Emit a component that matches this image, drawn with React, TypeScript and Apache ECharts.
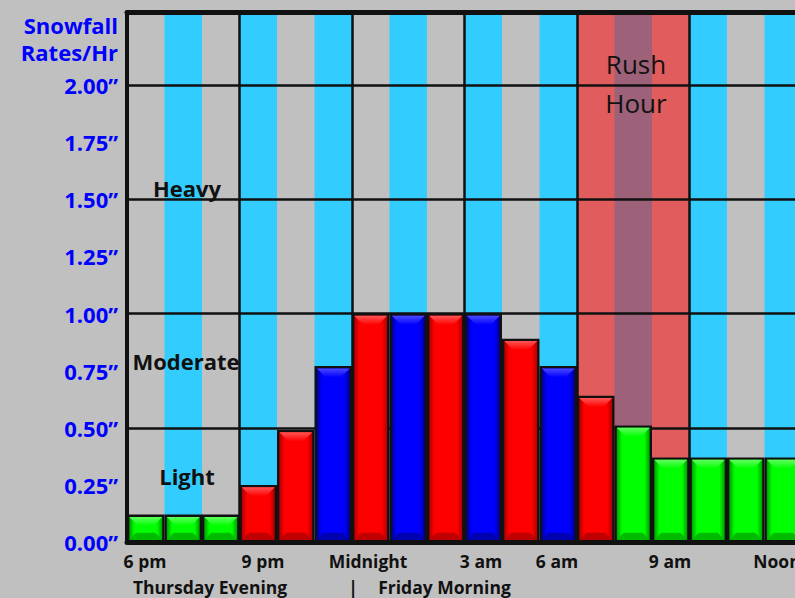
import React, { useEffect, useRef } from 'react';
import * as echarts from 'echarts';

// ---------- data ----------
const HOURS = ['6 pm', '7 pm', '8 pm', '9 pm', '10 pm', '11 pm', 'Midnight', '1 am', '2 am', '3 am', '4 am', '5 am', '6 am', '7 am', '8 am', '9 am', '10 am', '11 am'];
const RATES = [0.12, 0.12, 0.12, 0.25, 0.49, 0.77, 1.0, 1.0, 1.0, 1.0, 0.89, 0.77, 0.64, 0.51, 0.37, 0.37, 0.37, 0.37];
const BAR_KINDS = ['green', 'green', 'green', 'red', 'red', 'blue', 'red', 'blue', 'red', 'blue', 'red', 'blue', 'red', 'green', 'green', 'green', 'green', 'green'];
const GRID_RATES = [0.5, 1.0, 1.5, 2.0];
const GRID_HOURS = [3, 6, 9, 12, 15];
const RUSH_HOUR = [12, 15];
const Y_MAX_LABEL = 2.0;
const TITLE_LINES = ['Snowfall', 'Rates/Hr'];
const X_LABELS = ['6 pm', '9 pm', 'Midnight', '3 am', '6 am', '9 am', 'Noon'];
const DAY_LABELS = ['Thursday Evening', '|', 'Friday Morning'];
const INTENSITY_LABELS = ['Heavy', 'Moderate', 'Light'];
const RUSH_LABEL = 'Rush\nHour';

// ---------- layout / style ----------
const X_LABEL_X = [145, 263, 368, 481, 557, 670, 777];
const DAY_LABEL_X = [210, 353, 444.5];
const INTENSITY_POS = [[187, 188], [186, 361], [187, 476]];
const FONT = "'Open Sans', sans-serif";
const BG = '#c0c0c0';
const STRIPES = ['#c0c0c0', '#33ccff'];
const INK = '#111111';
const BLUE_TEXT = '#0000ff';

const PALETTES: Record<string, any> = {
  red: { base: '#ff0000', light: '#ff5555', dark: '#b00000', bottom: '#c00000' },
  blue: { base: '#0000ff', light: '#4a4aff', dark: '#000090', bottom: '#0000b0' },
  green: { base: '#00ff00', light: '#60ff60', dark: '#00a000', bottom: '#00bb00' },
};

function renderStripe(params: any, api: any) {
  const i = api.value(0);
  const cs = params.coordSys;
  const cx = api.coord([i, 0])[0];
  const w = api.size([1, 0])[0];
  return {
    type: 'rect',
    shape: { x: cx - w / 2, y: cs.y, width: w, height: cs.height },
    style: { fill: STRIPES[i % 2] },
  };
}

function renderBar(params: any, api: any) {
  const i = api.value(0);
  const v = api.value(1);
  const p = api.coord([i, v]);
  const b = api.coord([i, 0]);
  const w = api.size([1, 0])[0];
  const x = p[0] - w / 2;
  const y = p[1];
  const h = b[1] - p[1];
  const pal = PALETTES[BAR_KINDS[i]];
  const t = 2.3;
  const ix = x + t, iy = y + t, iw = w - 2 * t, ih = h - 2 * t;
  const dTop = Math.min(9, ih / 2, iw / 2);
  const dBot = Math.min(7, ih / 2, iw / 2);
  const G = echarts.graphic.LinearGradient;
  return {
    type: 'group',
    children: [
      { type: 'rect', shape: { x, y, width: w, height: h }, style: { fill: INK } },
      {
        type: 'rect',
        shape: { x: ix, y: iy, width: iw, height: ih },
        style: {
          fill: new G(0, 0, 1, 0, [
            { offset: 0, color: pal.dark },
            { offset: 0.16, color: pal.base },
            { offset: 0.84, color: pal.base },
            { offset: 1, color: pal.dark },
          ]),
        },
      },
      {
        type: 'polygon',
        shape: { points: [[ix, iy], [ix + iw, iy], [ix + iw - dTop, iy + dTop], [ix + dTop, iy + dTop]] },
        style: {
          fill: new G(0, 0, 0, 1, [
            { offset: 0, color: pal.light },
            { offset: 1, color: pal.base },
          ]),
        },
      },
      {
        type: 'polygon',
        shape: { points: [[ix, iy + ih], [ix + iw, iy + ih], [ix + iw - dBot, iy + ih - dBot], [ix + dBot, iy + ih - dBot]] },
        style: { fill: pal.bottom },
      },
    ],
  };
}

function text(str: string, x: number, y: number, opts: any) {
  return {
    type: 'text',
    x,
    y,
    z: 100,
    silent: true,
    style: {
      text: str,
      fontFamily: FONT,
      fontSize: opts.size,
      fontWeight: opts.weight || 'bold',
      fill: opts.color || INK,
      textAlign: opts.align || 'center',
      textVerticalAlign: 'middle',
      lineHeight: opts.lineHeight,
    },
  };
}

export default function App() {
  const ref = useRef<HTMLDivElement>(null);
  useEffect(() => {
    const chart = echarts.init(ref.current!, null, { renderer: 'svg' });
    const graphics: any[] = [];
    TITLE_LINES.forEach((s, k) => graphics.push(text(s, 118, 25 + k * 27, { size: 22, color: BLUE_TEXT, align: 'right' })));
    X_LABELS.forEach((s, k) => graphics.push(text(s, X_LABEL_X[k], 561, { size: 17.5 })));
    DAY_LABELS.forEach((s, k) => graphics.push(text(s, DAY_LABEL_X[k], 587, { size: 17.5 })));
    INTENSITY_LABELS.forEach((s, k) => graphics.push(text(s, INTENSITY_POS[k][0], INTENSITY_POS[k][1], { size: 22 })));
    graphics.push(text(RUSH_LABEL, 636, 83, { size: 26, weight: 'normal', lineHeight: 39 }));

    const option: any = {
      animation: false,
      backgroundColor: BG,
      grid: { left: 127, top: 12, width: 675, height: 530 },
      xAxis: [
        {
          type: 'category',
          data: HOURS,
          position: 'bottom',
          boundaryGap: true,
          axisLine: { show: true, onZero: false, lineStyle: { color: INK, width: 5 } },
          axisTick: { show: false },
          axisLabel: { show: false },
          splitLine: { show: false },
          z: 6,
        },
        {
          type: 'value',
          min: 0,
          max: HOURS.length,
          position: 'top',
          axisLine: { show: true, onZero: false, lineStyle: { color: INK, width: 5 } },
          axisTick: { show: false },
          axisLabel: { show: false },
          splitLine: { show: false },
          z: 6,
        },
      ],
      yAxis: {
        type: 'value',
        min: 0,
        max: 2.32,
        interval: 0.25,
        axisLine: { show: true, onZero: false, lineStyle: { color: INK, width: 4 } },
        axisTick: { show: false },
        splitLine: { show: false },
        axisLabel: {
          margin: 9,
          color: BLUE_TEXT,
          fontWeight: 'bold',
          fontSize: 22,
          fontFamily: FONT,
          formatter: (v: number) => (v > Y_MAX_LABEL + 0.001 ? '' : v.toFixed(2) + '\u201D'),
        },
        z: 6,
      },
      series: [
        {
          type: 'custom',
          name: 'stripes',
          xAxisIndex: 0,
          yAxisIndex: 0,
          z: 1,
          silent: true,
          renderItem: renderStripe,
          encode: { x: 0 },
          data: HOURS.map((_, i) => [i]),
        },
        {
          type: 'line',
          name: 'guides',
          xAxisIndex: 1,
          yAxisIndex: 0,
          data: [],
          silent: true,
          markArea: {
            z: 2,
            silent: true,
            itemStyle: { color: 'rgba(255,0,0,0.52)', borderWidth: 0 },
            label: { show: false },
            data: [[{ xAxis: RUSH_HOUR[0] }, { xAxis: RUSH_HOUR[1] }]],
          },
          markLine: {
            z: 3,
            silent: true,
            symbol: 'none',
            label: { show: false },
            lineStyle: { color: INK, width: 2.5, type: 'solid' },
            data: [
              ...GRID_RATES.map((r) => ({ yAxis: r })),
              ...GRID_HOURS.map((h) => ({ xAxis: h })),
            ],
          },
        },
        {
          type: 'custom',
          name: 'Snowfall rate',
          xAxisIndex: 0,
          yAxisIndex: 0,
          z: 4,
          renderItem: renderBar,
          encode: { x: 0, y: 1 },
          data: RATES.map((v, i) => [i, v]),
        },
      ],
      graphic: { elements: graphics },
    };
    chart.setOption(option);
    return () => chart.dispose();
  }, []);
  return (
    <div style={{ position: 'fixed', left: 0, top: 0, width: 795, height: 598, overflow: 'hidden', background: BG }}>
      <div ref={ref} style={{ width: 830, height: 598 }} />
    </div>
  );
}
